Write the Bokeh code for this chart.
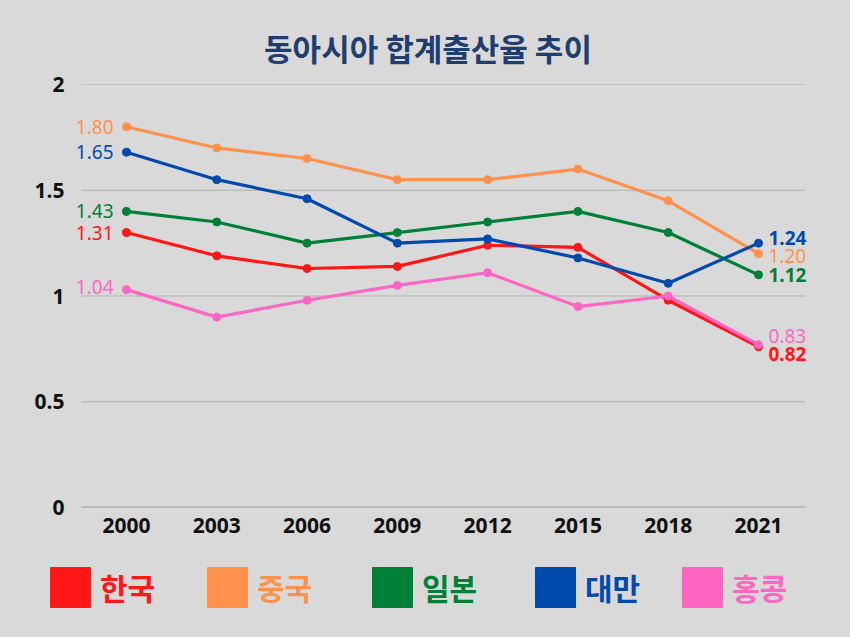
from bokeh.plotting import figure
from bokeh.models import Range1d, FixedTicker, Legend, LegendItem, ColumnDataSource, LabelSet
from bokeh.layouts import column
from bokeh.embed import file_html
from bokeh.resources import INLINE
from bokeh.core.properties import value

# ---------------- data ----------------
years = [2000, 2003, 2006, 2009, 2012, 2015, 2018, 2021]
names = ["한국", "중국", "일본", "대만", "홍콩"]
korea = [1.30, 1.19, 1.13, 1.14, 1.24, 1.23, 0.98, 0.76]
china = [1.80, 1.70, 1.65, 1.55, 1.55, 1.60, 1.45, 1.20]
japan = [1.40, 1.35, 1.25, 1.30, 1.35, 1.40, 1.30, 1.10]
taiwan = [1.68, 1.55, 1.46, 1.25, 1.27, 1.18, 1.06, 1.25]
hongkong = [1.03, 0.90, 0.98, 1.05, 1.11, 0.95, 1.00, 0.77]
first_labels = ["1.31", "1.80", "1.43", "1.65", "1.04"]
last_labels = ["0.82", "1.20", "1.12", "1.24", "0.83"]
y_ticks = [0, 0.5, 1, 1.5, 2]
y_tick_labels = {0: "0", 0.5: "0.5", 1: "1", 1.5: "1.5", 2: "2"}
title_text = "동아시아 합계출산율 추이"

series = [korea, china, japan, taiwan, hongkong]

# ---------------- style ----------------
BG = "#d9d9d9"
colors = ["#ff1616", "#ff914d", "#008037", "#004aad", "#ff66c4"]
first_dy = [0, 0, 0, 0, 3]        # screen px, positive = up
last_dy = [-7, -2, 0, 5, 9]
legend_px = [50, 207, 372, 535, 682]   # page x of legend squares
FL, FR = 40, 35                        # frame borders left / right
GRID_X0, GRID_X1 = 1998.5, 2022.55     # horizontal extent of the grid lines

W = 850
p = figure(width=W, height=548, output_backend="svg", toolbar_location=None,
           x_range=Range1d(1997.142, 2022.894), y_range=Range1d(0, 2),
           min_border_left=FL, min_border_right=FR, min_border_top=84,
           min_border_bottom=41)
p.background_fill_color = BG
p.border_fill_color = BG
p.outline_line_color = None

p.title.text = title_text
p.title.text_font = "Noto Sans CJK KR"
p.title.text_font_size = "31px"
p.title.text_font_style = "bold"
p.title.text_color = "#1f3d6e"
p.title.align = "center"
p.title.offset = 3
p.title.standoff = 30
p.title.text_line_height = 0.75

p.xgrid.visible = False
p.ygrid.visible = False

p.yaxis.ticker = FixedTicker(ticks=y_ticks)
p.yaxis.major_label_overrides = y_tick_labels
p.xaxis.ticker = FixedTicker(ticks=years)
for ax in (p.xaxis[0], p.yaxis[0]):
    ax.axis_line_color = None
    ax.major_tick_line_color = None
    ax.minor_tick_line_color = None
    ax.major_tick_out = 0
    ax.major_tick_in = 0
    ax.major_label_text_font = "Noto Sans"
    ax.major_label_text_font_style = "bold"
    ax.major_label_text_font_size = "21px"
    ax.major_label_text_color = "#111111"
p.yaxis.major_label_standoff = -24
p.xaxis.major_label_standoff = 10

# horizontal grid lines (zero line darker)
p.segment(x0=GRID_X0, x1=GRID_X1, y0=y_ticks[1:], y1=y_ticks[1:],
          line_color="#b0b0b0", line_width=1)
p.segment(x0=GRID_X0, x1=GRID_X1, y0=y_ticks[0], y1=y_ticks[0],
          line_color="#9a9a9a", line_width=2)

for i, ys in enumerate(series):
    c = colors[i]
    p.line(years, ys, line_color=c, line_width=3.2)
    p.scatter(years, ys, size=8, fill_color=c, line_color=c)
    s1 = ColumnDataSource(data=dict(x=[years[0]], y=[ys[0]], t=[first_labels[i]]))
    p.add_layout(LabelSet(x="x", y="y", text="t", source=s1, text_color=c,
                          text_font=value("Noto Sans"), text_font_size="19px",
                          text_align="right", text_baseline="middle",
                          x_offset=-13, y_offset=first_dy[i]))
    s2 = ColumnDataSource(data=dict(x=[years[-1]], y=[ys[-1]], t=[last_labels[i]]))
    p.add_layout(LabelSet(x="x", y="y", text="t", source=s2, text_color=c,
                          text_font=value("Noto Sans"), text_font_size="19px",
                          text_font_style="bold" if i in (0, 2, 3) else "normal",
                          text_align="left", text_baseline="middle",
                          x_offset=10, y_offset=last_dy[i]))

# ---------------- legend strip ----------------
q = figure(width=W, height=637 - 548, output_backend="svg", toolbar_location=None,
           x_range=Range1d(0, 1), y_range=Range1d(0, 1),
           min_border_left=FL, min_border_right=FR, min_border_top=0,
           min_border_bottom=0, x_axis_type=None, y_axis_type=None)
q.background_fill_color = BG
q.border_fill_color = BG
q.outline_line_color = None
q.grid.visible = False
for i, name in enumerate(names):
    src = ColumnDataSource(data=dict(x=[-100], y=[-100]))
    r = q.rect(x="x", y="y", width=1, height=1, source=src,
               fill_color=colors[i], line_color=colors[i])
    lg = Legend(items=[LegendItem(label=name, renderers=[r])],
                location=(legend_px[i] - 5 - FL, 25), orientation="horizontal",
                glyph_width=50, glyph_height=50, label_standoff=5,
                label_text_font="Noto Sans CJK KR", label_text_font_size="30px",
                label_text_font_style="bold", label_text_color=colors[i],
                label_text_baseline="middle",
                padding=0, margin=0, spacing=0,
                background_fill_alpha=0, border_line_color=None)
    q.add_layout(lg, "center")

layout = column(p, q, spacing=0)
html = file_html(layout, INLINE, title="동아시아 합계출산율 추이")
html = html.replace("<body>", '<body style="background-color:#d9d9d9;">')
open("out.html", "w").write(html)
